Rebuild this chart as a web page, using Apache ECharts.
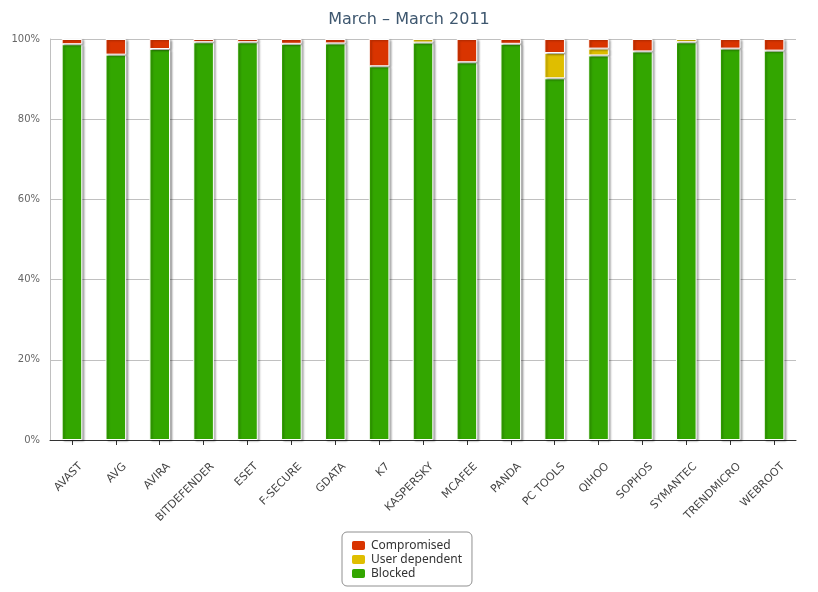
<!DOCTYPE html>
<html>
<head>
<meta charset="utf-8">
<script src="https://cdn.jsdelivr.net/npm/echarts@6/dist/echarts.min.js"></script>
<style>html,body{margin:0;padding:0;background:#fff;}#c{width:818px;height:592px;}</style>
</head>
<body>
<div id="c"></div>
<script>
var categories = ['AVAST','AVG','AVIRA','BITDEFENDER','ESET','F-SECURE','GDATA','K7','KASPERSKY','MCAFEE','PANDA','PC TOOLS','QIHOO','SOPHOS','SYMANTEC','TRENDMICRO','WEBROOT'];
var blocked = [98.7, 96.1, 97.5, 99.2, 99.2, 98.8, 98.9, 93.2, 99.1, 94.2, 98.8, 90.2, 95.9, 96.9, 99.2, 97.6, 97.1];
var userDependent = [0, 0, 0, 0, 0, 0, 0, 0, 0.9, 0, 0, 6.3, 1.7, 0, 0.8, 0, 0];
var compromised = [1.3, 3.9, 2.5, 0.8, 0.8, 1.2, 1.1, 6.8, 0, 5.8, 1.2, 3.5, 2.4, 3.1, 0, 2.4, 2.9];
var yTicks = [0, 20, 40, 60, 80, 100];

function nz(arr){ return arr.map(function(v){ return v === 0 ? null : v; }); }

var chart = echarts.init(document.getElementById('c'), null, {renderer:'canvas'});
var barStyle = function(color){
  return {
    color: color,
    borderColor: '#ffffff',
    borderWidth: 1,
    shadowColor: 'rgba(0,0,0,0.3)',
    shadowBlur: 2,
    shadowOffsetX: 2,
    shadowOffsetY: 1
  };
};
chart.setOption({
  animation: false,
  backgroundColor: '#ffffff',
  title: {
    text: 'March \u2013 March 2011',
    left: 'center',
    top: 7,
    textStyle: {color: '#3E576F', fontSize: 16, fontWeight: 'normal', fontFamily: 'DejaVu Sans'}
  },
  legend: {
    orient: 'vertical',
    left: 342,
    top: 532,
    data: ['Compromised', 'User dependent', 'Blocked'],
    itemWidth: 15,
    itemHeight: 11,
    itemGap: 1,
    padding: [7, 10, 6, 8],
    borderColor: '#909090',
    borderWidth: 1,
    borderRadius: 5,
    icon: 'roundRect',
    textStyle: {color: '#333', fontSize: 12, lineHeight: 12, fontFamily: 'Noto Sans'}
  },
  grid: {left: 50, right: 22, top: 39, bottom: 152, containLabel: false},
  xAxis: {
    type: 'category',
    data: categories,
    axisLine: {lineStyle: {color: '#333', width: 1}},
    axisTick: {show: true, alignWithLabel: true, length: 5, lineStyle: {color: '#333'}},
    axisLabel: {rotate: 45, color: '#444', fontSize: 11, fontFamily: 'DejaVu Sans', margin: 16, interval: 0,
      align: 'right', verticalAlign: 'top', padding: [7, 0, 0, 0]}
  },
  yAxis: {
    type: 'value',
    min: yTicks[0],
    max: yTicks[yTicks.length - 1],
    interval: yTicks[1] - yTicks[0],
    axisLine: {show: true, lineStyle: {color: '#C0C0C0'}},
    axisTick: {show: false},
    splitLine: {lineStyle: {color: '#C0C0C0'}},
    axisLabel: {formatter: '{value}%', color: '#666', fontSize: 10, fontFamily: 'DejaVu Sans', margin: 10}
  },
  series: [
    {name: 'Blocked', type: 'bar', stack: 'a', data: nz(blocked), barWidth: '47%', itemStyle: barStyle('#33A600')},
    {name: 'User dependent', type: 'bar', stack: 'a', data: nz(userDependent), barWidth: '47%', itemStyle: barStyle('#DFBE00')},
    {name: 'Compromised', type: 'bar', stack: 'a', data: nz(compromised), barWidth: '47%', itemStyle: barStyle('#D93400')}
  ]
});
</script>
</body>
</html>
